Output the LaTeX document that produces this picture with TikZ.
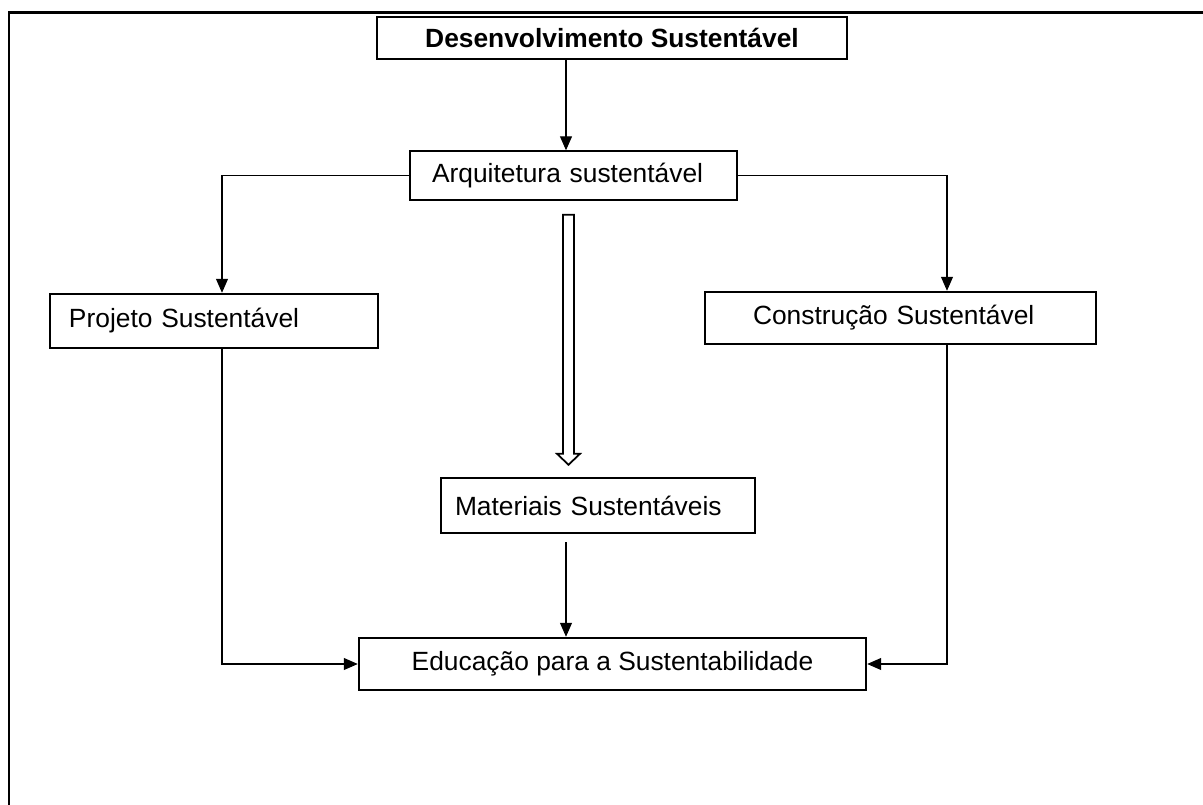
\documentclass[tikz,border=0pt]{standalone}
\usepackage{fontspec}
\setmainfont{Liberation Sans}
\usetikzlibrary{arrows.meta,calc}
\tikzset{
  bx/.style={draw=black, line width=0.8pt, minimum height=0.98cm, inner ysep=0pt, font=\fontsize{15}{18}\selectfont, align=left},
  bxK/.style={bx, line width=1.4pt},
  arr/.style={-{Triangle[length=0.28cm, width=0.24cm]}, line width=0.6pt},
  frm/.style={line width=1.6pt},
  hol/.style={line width=1pt, fill=white},
}
\begin{document}
\begin{tikzpicture}
\useasboundingbox (0,0) rectangle (24.06,-16.1);
\draw[frm] (0.18,-16.1) |- (24.06,-0.25);
\node[bxK, minimum width=9.4cm, minimum height=0.84cm, font={\fontsize{15}{18}\selectfont\bfseries}] (dev) at (12.24,-0.76) {Desenvolvimento Sustentável};
\node[bx, text width=5.66cm, inner xsep=0.44cm] (arq) at (11.47,-3.51) {Arquitetura sustentável};
\node[bxK, text width=5.80cm, inner xsep=0.38cm, minimum height=1.08cm] (proj) at (4.28,-6.42) {Projeto Sustentável};
\node[bxK, text width=5.90cm, inner xsep=0.96cm, minimum height=1.04cm] (cons) at (18.01,-6.36) {Construção Sustentável};
\node[bxK, text width=5.72cm, inner xsep=0.28cm, minimum height=1.10cm] (mat) at (11.96,-10.11) {Materiais Sustentáveis};
\node[bxK, minimum width=10.14cm, minimum height=1.04cm] (edu) at (12.25,-13.28) {Educação para a Sustentabilidade};
\coordinate (mid) at (11.32,0);
\coordinate (jl) at (4.44,0);
\coordinate (jr) at (18.94,0);
\draw[arr] (dev.south -| mid) -- (mid |- arq.north);
\foreach \j/\b/\s in {jl/proj/west, jr/cons/east} {
  \draw[arr] (arq.\s) -- (\j |- arq.\s) -- (\j |- \b.north);
  \draw[arr] (\j |- \b.south) |- (edu.\s);
}
\draw[arr, shorten <=0.16cm] (mat.south -| mid) -- (mid |- edu.north);
\coordinate (ht) at ($(arq.south)+(-0.1,-0.28)$);
\path (ht |- mat.north) ++(0,0.24) coordinate (hb);
\draw[hol] ($(ht)+(-0.11,0)$) -- ($(hb)+(-0.11,0.22)$) -- ($(hb)+(-0.23,0.22)$) -- (hb)
  -- ($(hb)+(0.23,0.22)$) -- ($(hb)+(0.11,0.22)$) -- ($(ht)+(0.11,0)$) -- cycle;
\end{tikzpicture}
\end{document}
